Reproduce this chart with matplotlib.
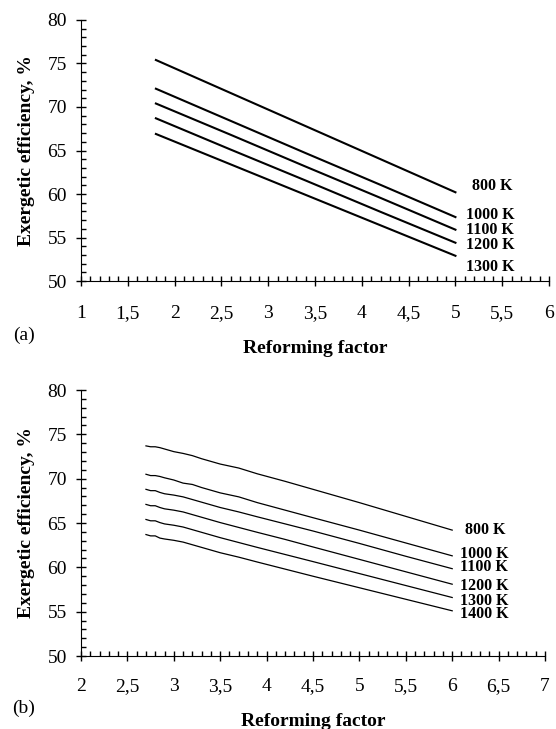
import matplotlib
matplotlib.use('Agg')
import matplotlib.pyplot as plt
from matplotlib.ticker import MultipleLocator, FuncFormatter

# (a) top panel data
x_a = [1.8, 2.6, 3.4, 4.2, 5.0]
eff_a = {
    '800 K':  [75.4, 71.6, 67.8, 64.0, 60.2],
    '1000 K': [72.1, 68.4, 64.7, 61.05, 57.35],
    '1100 K': [70.4, 66.8, 63.15, 59.55, 55.9],
    '1200 K': [68.7, 65.1, 61.55, 57.95, 54.4],
    '1300 K': [66.9, 63.4, 59.9, 56.4, 52.9],
}
# label anchor (left x, center y) in data units
lab_a = {'800 K': (5.18, 60.9), '1000 K': (5.11, 57.6), '1100 K': (5.11, 55.9),
         '1200 K': (5.11, 54.1), '1300 K': (5.11, 51.6)}

# (b) bottom panel data
x_b = [2.7, 2.75, 2.8, 2.85, 2.9, 3.0, 3.1, 3.2, 3.3, 3.4, 3.5, 3.7, 3.9, 4.2, 4.5, 5.0, 5.5, 6.0]
eff_b = {
    '800 K':  [73.7, 73.6, 73.6, 73.5, 73.35, 73.05, 72.85, 72.6, 72.25, 71.95, 71.65, 71.2, 70.55, 69.7, 68.8, 67.3, 65.75, 64.2],
    '1000 K': [70.5, 70.35, 70.35, 70.25, 70.1, 69.85, 69.5, 69.35, 69.0, 68.7, 68.4, 67.95, 67.3, 66.45, 65.6, 64.2, 62.75, 61.3],
    '1100 K': [68.8, 68.65, 68.65, 68.45, 68.3, 68.15, 67.95, 67.65, 67.35, 67.05, 66.75, 66.25, 65.7, 64.9, 64.1, 62.7, 61.25, 59.85],
    '1200 K': [67.1, 66.95, 66.95, 66.75, 66.6, 66.45, 66.25, 65.95, 65.65, 65.35, 65.05, 64.5, 63.95, 63.15, 62.3, 60.9, 59.5, 58.1],
    '1300 K': [65.4, 65.25, 65.25, 65.05, 64.9, 64.75, 64.55, 64.25, 63.95, 63.65, 63.35, 62.8, 62.25, 61.45, 60.65, 59.3, 57.95, 56.6],
    '1400 K': [63.7, 63.55, 63.55, 63.3, 63.2, 63.05, 62.85, 62.55, 62.25, 61.95, 61.65, 61.15, 60.6, 59.8, 59.0, 57.7, 56.4, 55.1],
}
lab_b = {'800 K': (6.14, 64.2), '1000 K': (6.08, 61.5), '1100 K': (6.08, 60.0),
         '1200 K': (6.08, 57.9), '1300 K': (6.08, 56.2), '1400 K': (6.08, 54.75)}

plt.rcParams['font.family'] = 'Liberation Serif'
plt.rcParams['font.size'] = 14

fig = plt.figure(figsize=(5.56, 7.29), dpi=100)
ax_a = fig.add_axes([0.1457, 0.6145, 0.8418, 0.3581])
ax_b = fig.add_axes([0.1457, 0.1001, 0.8345, 0.3649])

comma = FuncFormatter(lambda v, p: ('%g' % v).replace('.', ','))

def style(ax, xlim, xpad):
    ax.set_xlim(*xlim)
    ax.set_ylim(50, 80)
    for s in ['top', 'right']:
        ax.spines[s].set_visible(False)
    ax.xaxis.set_major_locator(MultipleLocator(0.5))
    ax.xaxis.set_minor_locator(MultipleLocator(0.1))
    ax.yaxis.set_major_locator(MultipleLocator(5))
    ax.yaxis.set_minor_locator(MultipleLocator(1))
    ax.xaxis.set_major_formatter(comma)
    ax.tick_params(which='major', direction='inout', length=7.2, width=1)
    ax.tick_params(which='minor', direction='in', length=3.6, width=1)
    ax.tick_params(axis='x', which='major', pad=xpad)
    ax.tick_params(axis='y', which='major', pad=6.5)
    ax.set_ylabel('Exergetic efficiency, %', fontweight='bold', fontsize=14, labelpad=9)

style(ax_a, (1, 6), 13.5)
for k, v in eff_a.items():
    ax_a.plot(x_a, v, color='black', lw=1.5)
    ax_a.text(lab_a[k][0], lab_a[k][1], k, fontweight='bold', fontsize=11.5, va='center', ha='left')
ax_a.set_xlabel('Reforming factor', fontweight='bold', fontsize=14, labelpad=13)

style(ax_b, (2, 7), 12.5)
for k, v in eff_b.items():
    ax_b.plot(x_b, v, color='black', lw=0.9)
    ax_b.text(lab_b[k][0], lab_b[k][1], k, fontweight='bold', fontsize=11.5, va='center', ha='left')
ax_b.set_xlabel('Reforming factor', fontweight='bold', fontsize=14, labelpad=13)

fig.text(24 / 556, 1 - 335 / 729, '(a)', ha='center', va='center', fontsize=14)
fig.text(24 / 556, 1 - 708 / 729, '(b)', ha='center', va='center', fontsize=14)

plt.savefig('out.png', dpi=100)
